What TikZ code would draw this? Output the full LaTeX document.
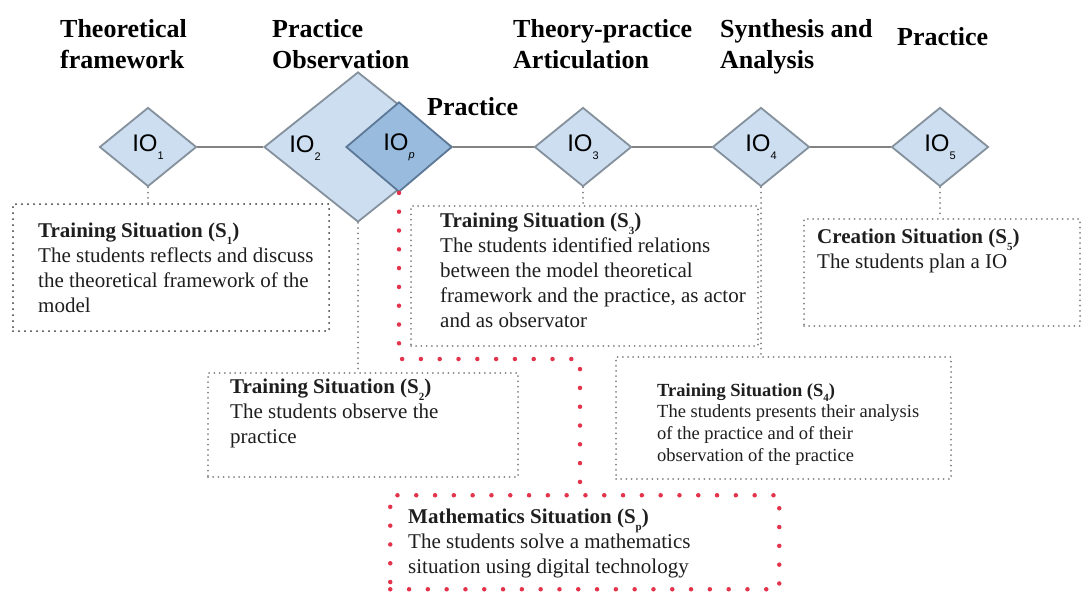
\documentclass[tikz,border=0pt]{standalone}
\usepackage{fontspec}
\setmainfont{Liberation Serif}
\newfontfamily\iofont{Liberation Sans}
\usetikzlibrary{shapes.geometric}

\definecolor{diafill}{RGB}{205,222,240}
\definecolor{diadraw}{RGB}{132,144,156}
\definecolor{pfill}{RGB}{152,187,222}
\definecolor{pdraw}{RGB}{92,120,150}
\definecolor{linkgrey}{RGB}{130,130,130}
\definecolor{dotgrey}{RGB}{130,130,130}
\definecolor{dotdark}{RGB}{55,55,55}
\definecolor{dotred}{RGB}{228,52,76}
\definecolor{bodytext}{RGB}{30,30,30}

% lowered small index, as in S_1 or IO_2
\newcommand\lowidx[1]{\raisebox{-0.3em}{\fontsize{11}{11}\selectfont #1}}
\newcommand\iolowidx[1]{\raisebox{-0.35em}{\fontsize{11}{11}\selectfont #1}}

\begin{document}
\begin{tikzpicture}[x=1pt,y=-1pt,
  io/.style={diamond, draw=diadraw, fill=diafill, line width=1.8pt, inner sep=0pt,
             font=\iofont\fontsize{24}{24}\selectfont},
  iop/.style={io, draw=pdraw, fill=pfill},
  iolab/.style={inner sep=0pt, font=\iofont\fontsize{24}{24}\selectfont},
  link/.style={draw=linkgrey, line width=1.8pt},
  gdot/.style={draw=dotgrey, line width=2pt, line cap=round, dash pattern=on 0pt off 5.2pt},
  kdot/.style={draw=dotdark, line width=2pt, line cap=round, dash pattern=on 0pt off 6pt},
  rdot/.style={draw=dotred, line width=4.5pt, line cap=round, dash pattern=on 0pt off 18.8pt},
  sbox/.style={rectangle, inner sep=0pt, anchor=north west},
  head/.style={font=\bfseries\fontsize{26}{31}\selectfont, align=left, inner sep=0pt, anchor=north west},
  body/.style={font=\fontsize{21}{25}\selectfont, text=bodytext, align=left, inner sep=0pt, anchor=north west},
  smallbody/.style={body, font=\fontsize{18.5}{21.7}\selectfont},
]
\useasboundingbox[fill=white] (0,0) rectangle (1083,591);

% phase headings
\node[head] (h1) at (60,19) {Theoretical\\framework};
\node[head] (h2) at (272,19) {Practice\\Observation};
\node[head] (h3) at (513,19) {Theory-practice\\Articulation};
\node[head] (h4) at (720,19) {Synthesis and\\Analysis};
\node[head] (h5) at (897,27) {Practice};
\node[head] (hp) at (427,97) {Practice};

% situation boxes
\node[sbox, kdot, minimum width=316, minimum height=127] (s1) at (12,203) {};
\node[sbox, gdot, minimum width=347, minimum height=140] (s3) at (410,205) {};
\node[sbox, gdot, minimum width=276, minimum height=107] (s5) at (803,218) {};
\node[sbox, gdot, minimum width=310, minimum height=104] (s2) at (207,372) {};
\node[sbox, gdot, minimum width=335, minimum height=122] (s4) at (615,356) {};
\node[sbox, rdot, minimum width=389, minimum height=94] (sp) at (388,493) {};

% box texts
\node[body] (t1) at (38,223) {\textbf{Training Situation (S\lowidx{1})}\\The students reflects and discuss\\the theoretical framework of the\\model};
\node[body] (t3) at (440,213) {\textbf{Training Situation (S\lowidx{3})}\\The students identified relations\\between the model theoretical\\framework and the practice, as actor\\and as observator};
\node[body] (t5) at (817,229) {\textbf{Creation Situation (S\lowidx{5})}\\The students plan a IO};
\node[body] (t2) at (230,379) {\textbf{Training Situation (S\lowidx{2})}\\The students observe the\\practice};
\node[smallbody] (t4) at (657,383) {\textbf{Training Situation (S\lowidx{4})}\\The students presents their analysis\\of the practice and of their\\observation of the practice};
\node[body] (tp) at (408,509) {\textbf{Mathematics Situation (S\lowidx{p})}\\The students solve a mathematics\\situation using digital technology};

% instructional-organisation diamonds
\node[io, minimum width=97, minimum height=79] (io1) at (148,147) {IO\iolowidx{1}};
\node[io, minimum width=188, minimum height=150] (io2) at (358,147) {};
\node[iolab] (io2lab) at (305,148) {IO\iolowidx{2}};
\node[iop, minimum width=106, minimum height=90] (iop) at (399,147) {IO\iolowidx{\itshape p}};
\node[io, minimum width=97, minimum height=79] (io3) at (583,147) {IO\iolowidx{3}};
\node[io, minimum width=97, minimum height=79] (io4) at (761,147) {IO\iolowidx{4}};
\node[io, minimum width=97, minimum height=79] (io5) at (940,147) {IO\iolowidx{5}};

% timeline
\draw[link] (io1.east) -- (io2.west);
\draw[link] (iop.east) -- (io3.west);
\draw[link] (io3.east) -- (io4.west);
\draw[link] (io4.east) -- (io5.west);

% links from each IO down to its situation
\draw[gdot] (io1.south) -- (io1.south |- s1.north);
\draw[gdot] (io2.south) -- (io2.south |- s2.north);
\draw[gdot] (io3.south) -- (io3.south |- s3.north);
\draw[gdot] (io4.south) -- (io4.south |- s4.north);
\draw[gdot] (io5.south) -- (io5.south |- s5.north);

% path of the practice to the mathematics situation
\coordinate (rbend) at (580,359);
\draw[rdot] (iop.south) |- (rbend) -- (rbend |- sp.north);
\end{tikzpicture}
\end{document}
